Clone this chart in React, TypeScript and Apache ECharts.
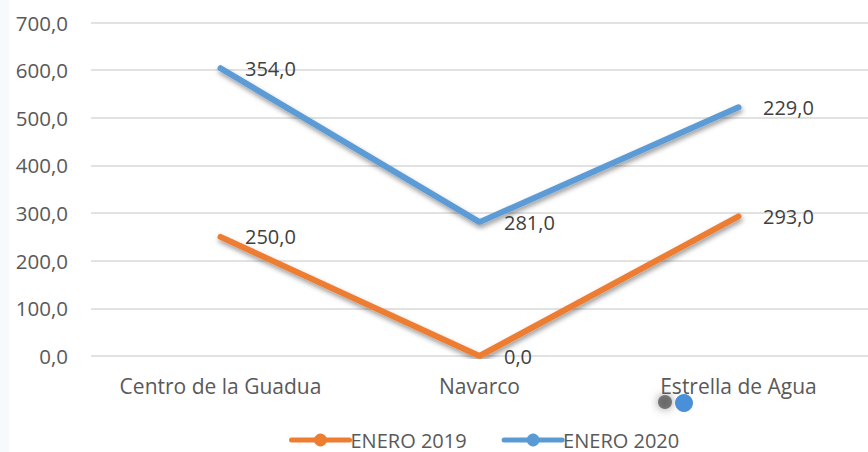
import React, { useEffect, useRef } from "react";
import * as echarts from "echarts";

const categories = ["Centro de la Guadua", "Navarco", "Estrella de Agua"];
const enero2019 = [250, 0, 293];
const enero2020 = [354, 281, 229];
const yTicks = { min: 0, max: 700, interval: 100 };

const fmt = (v: number) => v.toFixed(1).replace(".", ",");
const FONT = "Open Sans";

export default function App() {
  const ref = useRef<HTMLDivElement>(null);
  useEffect(() => {
    document.body.style.margin = "0";
    const chart = echarts.init(ref.current!, null, { renderer: "svg" });
    const lineShadow = {
      width: 6,
      cap: "round" as const,
      shadowColor: "rgba(0,0,0,0.4)",
      shadowBlur: 5,
      shadowOffsetX: 1,
      shadowOffsetY: 3,
    };
    const labelStyle = {
      show: true,
      position: "right" as const,
      distance: 24,
      color: "#404040",
      fontSize: 20,
      fontFamily: FONT,
      formatter: (p: any) => fmt(p.value),
    };
    chart.setOption({
      animation: false,
      backgroundColor: "#ffffff",
      textStyle: { fontFamily: FONT },
      grid: { left: 91, width: 783, top: 22.5, height: 333.5 },
      legend: {
        top: 430,
        left: 289,
        padding: 0,
        itemWidth: 58,
        itemHeight: 16,
        itemGap: 35,
        itemStyle: { borderWidth: 0 },
        lineStyle: { width: 5 },
        textStyle: {
          color: "#595959",
          fontSize: 20,
          lineHeight: 20,
          fontFamily: FONT,
          padding: [0, 0, 0, -4],
        },
        data: ["ENERO 2019", "ENERO 2020"],
      },
      xAxis: {
        type: "category",
        data: categories,
        boundaryGap: true,
        axisLine: { show: false },
        axisTick: { show: false },
        axisLabel: {
          color: "#595959",
          fontSize: 21,
          fontFamily: FONT,
          margin: 19,
          interval: 0,
          hideOverlap: false,
        },
      },
      yAxis: {
        type: "value",
        min: yTicks.min,
        max: yTicks.max,
        interval: yTicks.interval,
        axisLine: { show: false },
        axisTick: { show: false },
        axisLabel: {
          color: "#595959",
          fontSize: 20.5,
          fontFamily: FONT,
          margin: 23,
          formatter: (v: number) => fmt(v),
        },
        splitLine: { lineStyle: { color: "#d9d9d9", width: 1.5 } },
      },
      series: [
        {
          name: "ENERO 2019",
          type: "line",
          stack: "total",
          data: enero2019,
          symbol: "circle",
          symbolSize: 1,
          showSymbol: true,
          color: "#ed7d31",
          lineStyle: { ...lineShadow, color: "#ed7d31" },
          label: labelStyle,
        },
        {
          name: "ENERO 2020",
          type: "line",
          stack: "total",
          data: enero2020,
          symbol: "circle",
          symbolSize: 1,
          showSymbol: true,
          color: "#5b9bd5",
          lineStyle: { ...lineShadow, color: "#5b9bd5" },
          label: labelStyle,
        },
      ],
      graphic: [
        {
          type: "rect",
          shape: { x: 0, y: 0, width: 9, height: 452 },
          style: { fill: "#f7fafd" },
          silent: true,
        },
        {
          type: "circle",
          shape: { cx: 665, cy: 402, r: 7 },
          style: { fill: "rgba(50,50,50,0.6)", shadowBlur: 10, shadowColor: "rgba(0,0,0,0.7)" },
          silent: true,
        },
        {
          type: "circle",
          shape: { cx: 684, cy: 403, r: 9 },
          style: { fill: "#4a90d9" },
          silent: true,
        },
      ],
    });
    return () => chart.dispose();
  }, []);
  return <div ref={ref} style={{ width: 868, height: 452 }} />;
}
